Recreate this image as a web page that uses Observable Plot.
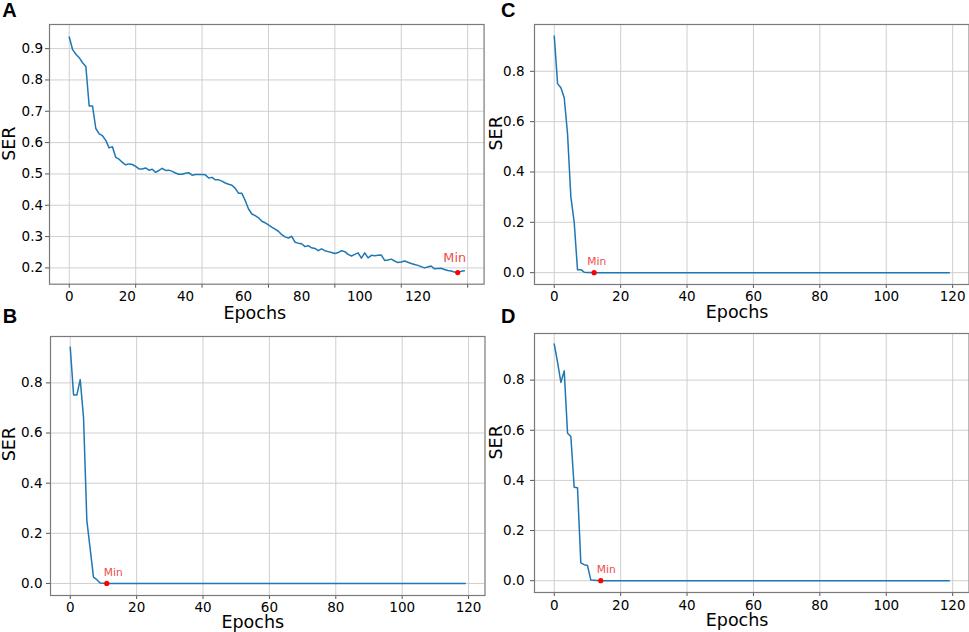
<!DOCTYPE html>
<html><head><meta charset="utf-8">
<script src="https://cdn.jsdelivr.net/npm/d3@7"></script>
<script src="https://cdn.jsdelivr.net/npm/@observablehq/plot@0.6"></script>
<style>
html,body{margin:0;padding:0;background:#fff;}
#fig{position:relative;width:969px;height:632px;overflow:hidden;background:#fff;}
#fig svg{position:absolute;}
</style></head><body><div id="fig"></div>
<script>
// SER per epoch (epoch = array index)
const serA = [
 0.937,0.897,0.882,0.871,0.855,0.843,0.717,0.717,0.645,0.628,0.622,0.607,0.583,0.587,0.553,0.547,0.537,0.529,0.532,0.530,
 0.524,0.516,0.516,0.519,0.512,0.515,0.505,0.511,0.518,0.511,0.512,0.508,0.503,0.499,0.499,0.502,0.504,0.496,0.498,0.498,
 0.498,0.497,0.487,0.489,0.481,0.481,0.477,0.471,0.467,0.464,0.454,0.438,0.438,0.415,0.388,0.372,0.367,0.360,0.349,0.344,
 0.337,0.330,0.324,0.317,0.306,0.299,0.295,0.301,0.282,0.279,0.277,0.268,0.271,0.264,0.262,0.255,0.261,0.255,0.252,0.249,
 0.246,0.249,0.255,0.252,0.243,0.238,0.243,0.248,0.231,0.248,0.232,0.240,0.239,0.240,0.241,0.224,0.225,0.228,0.222,0.217,
 0.219,0.222,0.218,0.214,0.211,0.208,0.204,0.200,0.203,0.206,0.197,0.198,0.199,0.195,0.192,0.190,0.187,0.185,0.189,0.191
];
const serB = [
 0.942,0.752,0.752,0.813,0.663,0.251,0.138,0.025,0.015,0.002,0.001,0,0,0,0,0,0,0,0,0,
 0,0,0,0,0,0,0,0,0,0,0,0,0,0,0,0,0,0,0,0,
 0,0,0,0,0,0,0,0,0,0,0,0,0,0,0,0,0,0,0,0,
 0,0,0,0,0,0,0,0,0,0,0,0,0,0,0,0,0,0,0,0,
 0,0,0,0,0,0,0,0,0,0,0,0,0,0,0,0,0,0,0,0,
 0,0,0,0,0,0,0,0,0,0,0,0,0,0,0,0,0,0,0,0
];
const serC = [
 0.940,0.751,0.735,0.695,0.552,0.301,0.201,0.012,0.012,0.002,0.001,0.001,0,0,0,0,0,0,0,0,
 0,0,0,0,0,0,0,0,0,0,0,0,0,0,0,0,0,0,0,0,
 0,0,0,0,0,0,0,0,0,0,0,0,0,0,0,0,0,0,0,0,
 0,0,0,0,0,0,0,0,0,0,0,0,0,0,0,0,0,0,0,0,
 0,0,0,0,0,0,0,0,0,0,0,0,0,0,0,0,0,0,0,0,
 0,0,0,0,0,0,0,0,0,0,0,0,0,0,0,0,0,0,0,0
];
const serD = [
 0.944,0.871,0.791,0.837,0.588,0.575,0.373,0.371,0.071,0.064,0.061,0.003,0.002,0.001,0,0,0,0,0,0,
 0,0,0,0,0,0,0,0,0,0,0,0,0,0,0,0,0,0,0,0,
 0,0,0,0,0,0,0,0,0,0,0,0,0,0,0,0,0,0,0,0,
 0,0,0,0,0,0,0,0,0,0,0,0,0,0,0,0,0,0,0,0,
 0,0,0,0,0,0,0,0,0,0,0,0,0,0,0,0,0,0,0,0,
 0,0,0,0,0,0,0,0,0,0,0,0,0,0,0,0,0,0,0,0
];
const xTicks = [0, 20, 40, 60, 80, 100, 120];
const yTicksA = [0.2, 0.3, 0.4, 0.5, 0.6, 0.7, 0.8, 0.9];
const yTicksBCD = [0, 0.2, 0.4, 0.6, 0.8];
const xLabel = "Epochs";
const yLabel = "SER";
const minLabel = "Min";
const panelLetters = ["A", "B", "C", "D"];

// layout (page pixel geometry of each panel frame etc.)
const layout = {
  A: {frame: [48.7, 483.3, 24.3, 284.0], yDomain: [0.148, 0.977], yTicks: yTicksA, padY: 2.5, padX: 3.5,
      serDx: -47.2, serDy: 6.5, epDx: -12, epDy: 22, minDx: -3, minDy: -11, minSize: 12.8, squeeze: 0.875, letter: [2.2, 16.5]},
  B: {frame: [50.3, 484.8, 336.0, 595.0], yDomain: [-0.048, 0.985], yTicks: yTicksBCD, padY: 4, padX: 3,
      serDx: -47.8, serDy: -4.7, epDx: -15, epDy: 20.5, minDx: 6.5, minDy: -7.7, minSize: 10.7, squeeze: null, letter: [2.7, 323]},
  C: {frame: [533.7, 968.3, 24.3, 284.3], yDomain: [-0.047, 0.986], yTicks: yTicksBCD, padY: 6, padX: 2.5,
      serDx: -45.4, serDy: -4, epDx: -14.7, epDy: 21, minDx: 2.6, minDy: -8, minSize: 10.7, squeeze: null, letter: [501, 16.5]},
  D: {frame: [533.7, 968.3, 332.7, 591.7], yDomain: [-0.047, 0.986], yTicks: yTicksBCD, padY: 6, padX: 3.5,
      serDx: -44.7, serDy: -3.5, epDx: -14.7, epDy: 21.5, minDx: 5.5, minDy: -7.4, minSize: 10.7, squeeze: null, letter: [501, 323]}
};

const fig = document.getElementById("fig");

function drawPanel(key, values) {
  const L = layout[key];
  const [fl, fr, ft, fb] = L.frame;
  const mL = 60, mR = 4, mT = 12, mB = 46;
  const data = values.map((v, i) => ({epoch: i, ser: v}));
  const best = data[d3.minIndex(values)];
  const labelTicks = L.squeeze ? xTicks.map(v => v * L.squeeze) : xTicks;
  const fmtX = L.squeeze ? (d => String(Math.round(d / L.squeeze))) : (d => String(d));
  const svg = Plot.plot({
    width: fr - fl + mL + mR,
    height: fb - ft + mT + mB,
    marginLeft: mL, marginRight: mR, marginTop: mT, marginBottom: mB,
    style: {background: "transparent", overflow: "visible", fontFamily: "DejaVu Sans, sans-serif", fontSize: "13.5px", color: "#000"},
    x: {domain: [-5.95, 124.95]},
    y: {domain: L.yDomain},
    marks: [
      Plot.gridX(xTicks, {stroke: "#cfcfcf", strokeOpacity: 1, strokeWidth: 1}),
      Plot.gridY(L.yTicks, {stroke: "#cfcfcf", strokeOpacity: 1, strokeWidth: 1}),
      Plot.axisX(xTicks, {tickSize: 4, stroke: "#555", tickFormat: () => "", label: null}),
      Plot.axisX(labelTicks, {tickSize: 0, tickPadding: L.padX + 4, tickFormat: fmtX, label: null, fill: "#000", fontSize: 13.5}),
      Plot.axisY(L.yTicks, {tickSize: 4, tickPadding: L.padY, tickFormat: d3.format(".1f"), label: null, stroke: "#555", fill: "#000", fontSize: 13.5}),
      Plot.line(data, {x: "epoch", y: "ser", stroke: "#1f77b4", strokeWidth: 1.5}),
      Plot.dot([best], {x: "epoch", y: "ser", r: 2.6, fill: "#ff0000", stroke: "none"}),
      Plot.text([best], {x: "epoch", y: "ser", text: () => minLabel, dx: L.minDx, dy: L.minDy, lineAnchor: "bottom", fontSize: L.minSize, fill: "#f04b4b"}),
      Plot.frame({stroke: "#7a7a7a", strokeWidth: 1.2}),
      Plot.text([xLabel], {text: d => d, frameAnchor: "bottom", dx: L.epDx, dy: L.epDy, lineAnchor: "top", fontSize: 17.5, fill: "#000"}),
      Plot.text([yLabel], {text: d => d, frameAnchor: "left", dx: L.serDx, dy: L.serDy, rotate: -90, lineAnchor: "top", fontSize: 17.5, fill: "#000"})
    ]
  });
  svg.style.left = (fl - mL) + "px";
  svg.style.top = (ft - mT) + "px";
  fig.append(svg);
}

drawPanel("A", serA);
drawPanel("B", serB);
drawPanel("C", serC);
drawPanel("D", serD);

// panel letters
const overlay = d3.select(fig).append("svg")
  .attr("width", 969).attr("height", 632)
  .style("left", "0px").style("top", "0px").style("pointer-events", "none");
overlay.selectAll("text").data(panelLetters).join("text")
  .attr("x", d => layout[d].letter[0])
  .attr("y", d => layout[d].letter[1])
  .attr("font-family", "Liberation Sans, Arial, sans-serif")
  .attr("font-weight", "bold")
  .attr("font-size", 20)
  .attr("fill", "#000")
  .text(d => d);
</script>
</body></html>
